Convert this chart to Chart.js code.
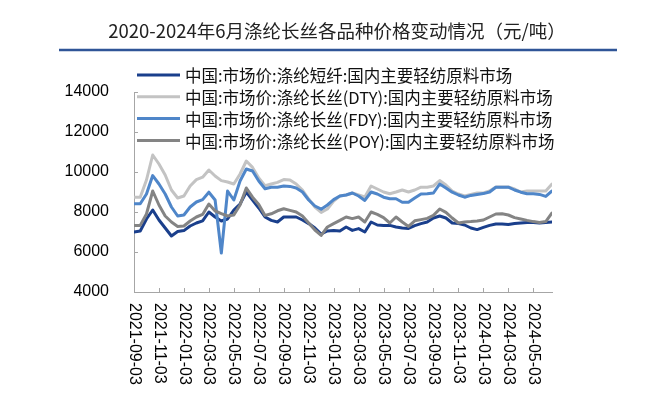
<!DOCTYPE html>
<html>
<head>
<meta charset="utf-8">
<script src="https://cdn.jsdelivr.net/npm/chart.js@4.4.1/dist/chart.umd.min.js"></script>
<style>
  html, body { margin: 0; padding: 0; background: #fff; }
  #wrap { width: 660px; height: 400px; position: relative; }
</style>
</head>
<body>
<div id="wrap"><canvas id="myChart" width="660" height="400"></canvas></div>
<script>
// Chart data: half-month steps starting 2021-09-03
const chartTitle = '2020-2024年6月涤纶长丝各品种价格变动情况（元/吨）'
const tickLabels = [
  '2021-09-03', '2021-11-03', '2022-01-03', '2022-03-03', '2022-05-03', '2022-07-03',
  '2022-09-03', '2022-11-03', '2023-01-03', '2023-03-03', '2023-05-03', '2023-07-03',
  '2023-09-03', '2023-11-03', '2024-01-03', '2024-03-03', '2024-05-03'
]
const seriesNames = [
  '中国:市场价:涤纶短纤:国内主要轻纺原料市场',
  '中国:市场价:涤纶长丝(DTY):国内主要轻纺原料市场',
  '中国:市场价:涤纶长丝(FDY):国内主要轻纺原料市场',
  '中国:市场价:涤纶长丝(POY):国内主要轻纺原料市场'
]
const staple = [
  7000, 7050, 7650, 8100, 7600, 7200, 6800, 7020, 7070, 7300, 7450, 7560, 8000, 7750,
  7550, 7650, 8100, 8400, 9000, 8600, 8200, 7750, 7580, 7500, 7750, 7750, 7750, 7600,
  7420, 7200, 6900, 7050, 7080, 7050, 7250, 7080, 7170, 7000, 7500, 7350, 7330, 7330,
  7250, 7200, 7180, 7320, 7420, 7500, 7700, 7800, 7700, 7450, 7420, 7350, 7200, 7120,
  7230, 7330, 7400, 7400, 7380, 7420, 7450, 7480, 7470, 7450, 7470, 7500
]
const dty = [
  8740, 8740, 9600, 10850, 10400, 9850, 9100, 8700, 8800, 9300, 9620, 9740, 10100, 9800,
  9570, 9500, 9400, 9900, 10550, 10230, 9700, 9320, 9400, 9480, 9620, 9600, 9400, 9100,
  8650, 8250, 7980, 8150, 8550, 8800, 8850, 8950, 8850, 8750, 9300, 9150, 9000, 8910,
  9000, 9100, 9000, 9100, 9240, 9240, 9300, 9570, 9350, 9050, 8900, 8800, 8880, 8950,
  8950, 9050, 9250, 9250, 9250, 9150, 9000, 9050, 9050, 9050, 9050, 9400
]
const fdy = [
  8410, 8410, 8900, 9820, 9400, 8900, 8250, 7800, 7850, 8250, 8500, 8620, 8990, 8600,
  5950, 9050, 8600, 9550, 10150, 10050, 9550, 9160, 9240, 9240, 9300, 9280, 9200, 9000,
  8600, 8300, 8140, 8350, 8620, 8800, 8850, 8950, 8800, 8580, 9000, 8900, 8740, 8660,
  8660, 8490, 8490, 8700, 8900, 8910, 8950, 9400, 9200, 8990, 8850, 8740, 8830, 8880,
  8920, 9000, 9240, 9240, 9240, 9100, 8990, 8910, 8910, 8880, 8780, 9050
]
const poy = [
  7330, 7330, 7900, 9050, 8350, 7800, 7500, 7280, 7300, 7550, 7750, 7880, 8400, 8050,
  7920, 7800, 7850, 8350, 9200, 8740, 8380, 7830, 7910, 8060, 8160, 8080, 8000, 7800,
  7450, 7100, 6830, 7250, 7420, 7580, 7750, 7670, 7750, 7500, 8000, 7880, 7720, 7450,
  7750, 7500, 7280, 7560, 7620, 7680, 7830, 8150, 7980, 7700, 7450, 7500, 7520, 7550,
  7600, 7750, 7900, 7910, 7850, 7720, 7650, 7580, 7520, 7480, 7520, 7950
]
const months = staple.map((v, i) => i * 0.5)
const colors = ['#1a3f8c', '#c3c3c3', '#4f86c9', '#848484']

const CJK = '"Noto Sans CJK SC", "Noto Sans", sans-serif'
const LAT = '"Liberation Sans", Arial, sans-serif'

function pts(arr) {
  return arr.map((v, i) => ({ x: months[i], y: v }))
}

const decor = {
  id: 'decor',
  afterDraw(chart) {
    const c = chart.ctx
    const xs = chart.scales.x
    const ys = chart.scales.y
    const area = chart.chartArea
    c.save()
    // title
    c.fillStyle = '#222'
    c.font = '18.5px ' + CJK
    c.textAlign = 'center'
    c.textBaseline = 'middle'
    c.fillText(chartTitle, 337, 31)
    c.strokeStyle = '#2f5597'
    c.lineWidth = 2.5
    c.beginPath()
    c.moveTo(59, 50)
    c.lineTo(617, 50)
    c.stroke()

    // inside tick marks
    c.strokeStyle = '#a6a6a6'
    c.lineWidth = 1
    c.beginPath()
    ys.ticks.forEach(t => {
      const y = Math.round(ys.getPixelForValue(t.value)) + 0.5
      c.moveTo(area.left, y)
      c.lineTo(area.left + 4, y)
    })
    xs.ticks.forEach(t => {
      const x = Math.round(xs.getPixelForValue(t.value)) + 0.5
      c.moveTo(x, area.bottom)
      c.lineTo(x, area.bottom - 4)
    })
    c.stroke()

    // x labels, rotated clockwise
    c.fillStyle = '#000'
    c.font = '16px ' + LAT
    c.textAlign = 'left'
    c.textBaseline = 'middle'
    xs.ticks.forEach(t => {
      const lab = tickLabels[Math.round(t.value / 2)]
      if (!lab) return
      c.save()
      c.translate(xs.getPixelForValue(t.value), area.bottom + 11)
      c.rotate(Math.PI / 2)
      c.fillText(lab, 0, 0)
      c.restore()
    })

    // legend
    c.font = '16.5px ' + CJK
    chart.data.datasets.forEach((ds, i) => {
      const y = 75 + i * 21.8
      c.strokeStyle = ds.borderColor
      c.lineWidth = 3
      c.beginPath()
      c.moveTo(137, y)
      c.lineTo(180, y)
      c.stroke()
      c.fillStyle = '#111'
      c.fillText(ds.label, 185, y + 1)
    })
    c.restore()
  }
}

new Chart(document.getElementById('myChart'), {
  type: 'line',
  data: {
    datasets: [
      { label: seriesNames[0], data: pts(staple), borderColor: colors[0], order: 3 },
      { label: seriesNames[1], data: pts(dty), borderColor: colors[1], order: 2 },
      { label: seriesNames[2], data: pts(fdy), borderColor: colors[2], order: 1 },
      { label: seriesNames[3], data: pts(poy), borderColor: colors[3], order: 0 }
    ]
  },
  options: {
    responsive: false,
    animation: false,
    layout: { padding: { top: 92, right: 108, bottom: 0, left: 0 } },
    elements: {
      line: { borderWidth: 3, tension: 0, borderJoinStyle: 'round', borderCapStyle: 'round' },
      point: { radius: 0 }
    },
    scales: {
      x: {
        type: 'linear',
        min: 0,
        max: 33.5,
        grid: { display: false },
        border: { display: true, color: '#a6a6a6', width: 1 },
        ticks: { display: false, stepSize: 2, includeBounds: false },
        afterFit(scale) { scale.height = 108 }
      },
      y: {
        min: 4000,
        max: 14000,
        grid: { display: false },
        border: { display: true, color: '#a6a6a6', width: 1 },
        ticks: {
          stepSize: 2000,
          padding: 17,
          color: '#000',
          font: { family: LAT, size: 16 },
          callback: v => String(v)
        },
        afterFit(scale) { scale.width = 134 }
      }
    },
    plugins: {
      legend: { display: false },
      tooltip: { enabled: false }
    }
  },
  plugins: [decor]
})
</script>
</body>
</html>
